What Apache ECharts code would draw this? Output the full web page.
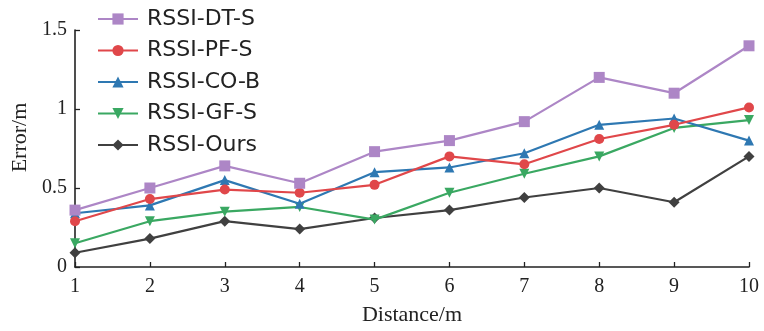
<!DOCTYPE html>
<html>
<head>
<meta charset="utf-8">
<script src="https://cdn.jsdelivr.net/npm/echarts@6/dist/echarts.min.js"></script>
<style>
  html, body { margin: 0; padding: 0; background: #fff; }
  #chart { width: 764px; height: 331px; }
</style>
</head>
<body>
<div id="chart"></div>
<script>
// Localization error versus distance for five RSSI methods
const distances = [1, 2, 3, 4, 5, 6, 7, 8, 9, 10];
const seriesNames = ['RSSI-DT-S', 'RSSI-PF-S', 'RSSI-CO-B', 'RSSI-GF-S', 'RSSI-Ours'];
const dtS   = [0.36, 0.50, 0.64, 0.53, 0.73, 0.80, 0.92, 1.20, 1.10, 1.40];
const pfS   = [0.29, 0.43, 0.49, 0.47, 0.52, 0.70, 0.65, 0.81, 0.90, 1.01];
const coB   = [0.34, 0.39, 0.55, 0.40, 0.60, 0.63, 0.72, 0.90, 0.94, 0.80];
const gfS   = [0.15, 0.29, 0.35, 0.38, 0.30, 0.47, 0.59, 0.70, 0.88, 0.93];
const ours  = [0.09, 0.18, 0.29, 0.24, 0.31, 0.36, 0.44, 0.50, 0.41, 0.70];
const yTicks = [0, 0.5, 1, 1.5];

const valuesList = [dtS, pfS, coB, gfS, ours];
const colors = ['#ad86c6', '#e0474a', '#2e78b2', '#3aa862', '#404040'];
const symbols = ['rect', 'circle', 'triangle', 'triangle', 'diamond'];
const rotations = [0, 0, 0, 180, 0];
const sizes = [11, 10, 10, 10, 11];

const chart = echarts.init(document.getElementById('chart'));
const serif = 'Liberation Serif';

chart.setOption({
  animation: false,
  backgroundColor: '#fff',
  grid: { left: 75, right: 15, top: 30, bottom: 61 },
  legend: {
    orient: 'vertical',
    left: 92,
    top: 3,
    itemWidth: 40,
    itemHeight: 14,
    itemGap: 9.5,
    textStyle: { fontFamily: 'DejaVu Sans', fontSize: 22, color: '#222', padding: [0, 0, 0, 4] },
    data: seriesNames
  },
  xAxis: {
    type: 'value',
    min: 1, max: 10, interval: 1,
    name: 'Distance/m',
    nameLocation: 'middle',
    nameGap: 37,
    nameTextStyle: { fontFamily: serif, fontSize: 22, color: '#222' },
    axisLine: { lineStyle: { color: '#222', width: 1.6 } },
    axisTick: { inside: true, length: 5, lineStyle: { color: '#222', width: 1.3 } },
    axisLabel: { fontFamily: serif, fontSize: 20, color: '#222', margin: 10 },
    splitLine: { show: false }
  },
  yAxis: {
    type: 'value',
    min: 0, max: 1.5, interval: 0.5,
    name: 'Error/m',
    nameLocation: 'middle',
    nameGap: 40,
    nameTextStyle: { fontFamily: serif, fontSize: 22, color: '#222', padding: [0, 0, 0, 22] },
    axisLine: { show: true, lineStyle: { color: '#222', width: 1.6 } },
    axisTick: { show: true, inside: true, length: 5, lineStyle: { color: '#222', width: 1.3 } },
    axisLabel: {
      fontFamily: serif, fontSize: 20, color: '#222', margin: 8,
      formatter: v => (yTicks.includes(v) ? String(v) : '')
    },
    splitLine: { show: false }
  },
  series: seriesNames.map((name, i) => ({
    name,
    type: 'line',
    data: distances.map((d, k) => [d, valuesList[i][k]]),
    symbol: symbols[i],
    symbolSize: sizes[i],
    symbolRotate: rotations[i],
    showAllSymbol: true,
    lineStyle: { color: colors[i], width: 2.2 },
    itemStyle: { color: colors[i] },
    z: 10 - i
  }))
});
</script>
</body>
</html>
